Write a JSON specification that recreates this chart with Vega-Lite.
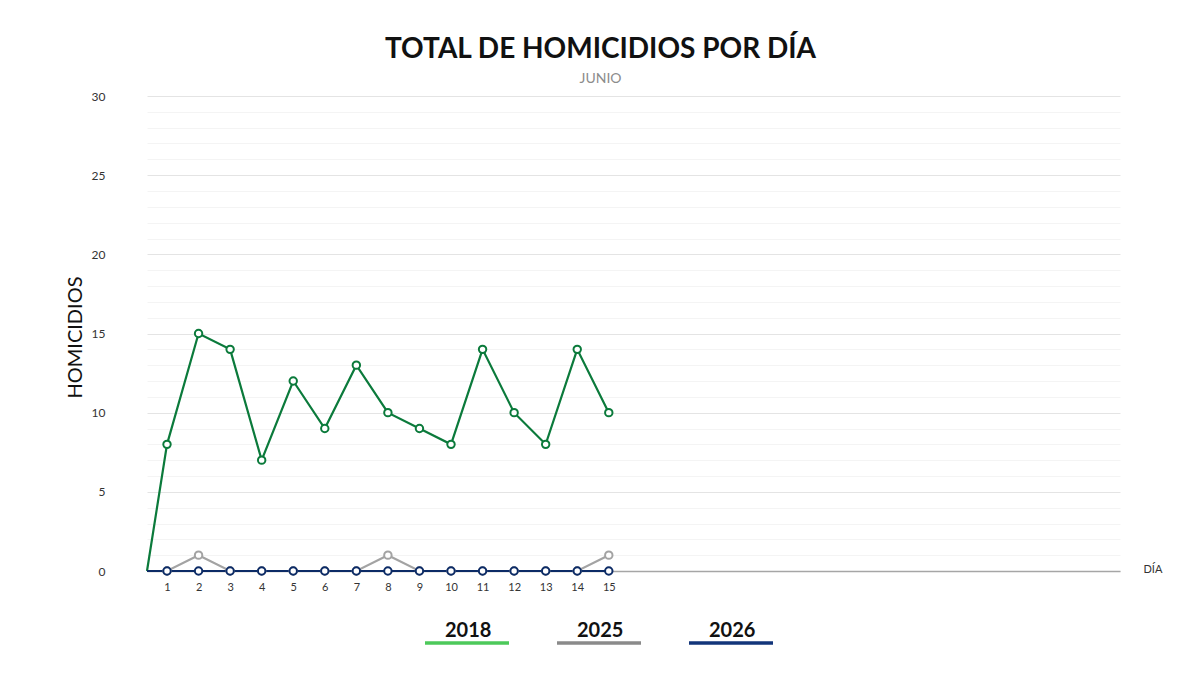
{
  "$schema": "https://vega.github.io/schema/vega-lite/v6.json",
  "autosize": {"type": "none"},
  "width": 973,
  "height": 475,
  "padding": {"left": 147, "top": 96, "right": 80, "bottom": 104},
  "background": "white",
  "title": {
    "text": "TOTAL DE HOMICIDIOS POR DÍA",
    "subtitle": "JUNIO",
    "anchor": "middle",
    "dx": -33,
    "offset": 4,
    "font": "Lato",
    "fontSize": 28,
    "fontWeight": "bold",
    "color": "#111111",
    "subtitleFont": "Lato",
    "subtitleFontSize": 14,
    "subtitleFontWeight": "normal",
    "subtitleColor": "#8c8c8c",
    "subtitlePadding": 8
  },
  "config": {
    "view": {"stroke": null},
    "font": "Lato",
    "legend": {
      "orient": "none",
      "legendX": 308,
      "legendY": 523,
      "direction": "horizontal",
      "symbolType": "M-4.2,1.2L4.2,1.2",
      "symbolSize": 400,
      "symbolStrokeWidth": 3.5,
      "labelFontSize": 20,
      "labelFontWeight": "bold",
      "labelColor": "#111111",
      "labelOffset": -34,
      "columnPadding": 34
    }
  },
  "data": {
    "values": [
      {"dia": 0, "anio": "2018", "homicidios": 0},
      {"dia": 1, "anio": "2018", "homicidios": 8},
      {"dia": 2, "anio": "2018", "homicidios": 15},
      {"dia": 3, "anio": "2018", "homicidios": 14},
      {"dia": 4, "anio": "2018", "homicidios": 7},
      {"dia": 5, "anio": "2018", "homicidios": 12},
      {"dia": 6, "anio": "2018", "homicidios": 9},
      {"dia": 7, "anio": "2018", "homicidios": 13},
      {"dia": 8, "anio": "2018", "homicidios": 10},
      {"dia": 9, "anio": "2018", "homicidios": 9},
      {"dia": 10, "anio": "2018", "homicidios": 8},
      {"dia": 11, "anio": "2018", "homicidios": 14},
      {"dia": 12, "anio": "2018", "homicidios": 10},
      {"dia": 13, "anio": "2018", "homicidios": 8},
      {"dia": 14, "anio": "2018", "homicidios": 14},
      {"dia": 15, "anio": "2018", "homicidios": 10},
      {"dia": 0, "anio": "2025", "homicidios": 0},
      {"dia": 1, "anio": "2025", "homicidios": 0},
      {"dia": 2, "anio": "2025", "homicidios": 1},
      {"dia": 3, "anio": "2025", "homicidios": 0},
      {"dia": 4, "anio": "2025", "homicidios": 0},
      {"dia": 5, "anio": "2025", "homicidios": 0},
      {"dia": 6, "anio": "2025", "homicidios": 0},
      {"dia": 7, "anio": "2025", "homicidios": 0},
      {"dia": 8, "anio": "2025", "homicidios": 1},
      {"dia": 9, "anio": "2025", "homicidios": 0},
      {"dia": 10, "anio": "2025", "homicidios": 0},
      {"dia": 11, "anio": "2025", "homicidios": 0},
      {"dia": 12, "anio": "2025", "homicidios": 0},
      {"dia": 13, "anio": "2025", "homicidios": 0},
      {"dia": 14, "anio": "2025", "homicidios": 0},
      {"dia": 15, "anio": "2025", "homicidios": 1},
      {"dia": 0, "anio": "2026", "homicidios": 0},
      {"dia": 1, "anio": "2026", "homicidios": 0},
      {"dia": 2, "anio": "2026", "homicidios": 0},
      {"dia": 3, "anio": "2026", "homicidios": 0},
      {"dia": 4, "anio": "2026", "homicidios": 0},
      {"dia": 5, "anio": "2026", "homicidios": 0},
      {"dia": 6, "anio": "2026", "homicidios": 0},
      {"dia": 7, "anio": "2026", "homicidios": 0},
      {"dia": 8, "anio": "2026", "homicidios": 0},
      {"dia": 9, "anio": "2026", "homicidios": 0},
      {"dia": 10, "anio": "2026", "homicidios": 0},
      {"dia": 11, "anio": "2026", "homicidios": 0},
      {"dia": 12, "anio": "2026", "homicidios": 0},
      {"dia": 13, "anio": "2026", "homicidios": 0},
      {"dia": 14, "anio": "2026", "homicidios": 0},
      {"dia": 15, "anio": "2026", "homicidios": 0}
    ]
  },
  "encoding": {
    "x": {
      "field": "dia",
      "type": "quantitative",
      "scale": {"domain": [0.366, 31.2], "nice": false, "zero": false, "clamp": true},
      "axis": {
        "values": [1, 2, 3, 4, 5, 6, 7, 8, 9, 10, 11, 12, 13, 14, 15],
        "grid": false,
        "ticks": false,
        "domainColor": "#a6a6a6",
        "domainWidth": 1.5,
        "labelFontSize": 11,
        "labelColor": "#333333",
        "labelPadding": 10,
        "title": "DÍA",
        "titleFontSize": 11,
        "titleFontWeight": "normal",
        "titleColor": "#333333",
        "titleX": 996,
        "titleY": -2,
        "titleAlign": "left",
        "titleBaseline": "middle"
      }
    },
    "y": {
      "field": "homicidios",
      "type": "quantitative",
      "scale": {"domain": [0, 30], "nice": false},
      "axis": {
        "values": [0, 1, 2, 3, 4, 5, 6, 7, 8, 9, 10, 11, 12, 13, 14, 15, 16, 17, 18, 19, 20, 21, 22, 23, 24, 25, 26, 27, 28, 29, 30],
        "labelExpr": "datum.value % 5 === 0 ? datum.label : ''",
        "ticks": false,
        "domain": false,
        "grid": true,
        "gridColor": {"condition": {"test": "datum.value % 5 === 0", "value": "#e4e4e4"}, "value": "#f4f4f4"},
        "labelFontSize": 12,
        "labelColor": "#333333",
        "labelPadding": 42,
        "title": "HOMICIDIOS",
        "titleFontSize": 20,
        "titleFontWeight": "normal",
        "titleColor": "#111111",
        "titleX": -66,
        "titleY": 241,
        "titleBaseline": "alphabetic"
      }
    }
  },
  "layer": [
    {
      "mark": {"type": "line", "strokeWidth": 2.2},
      "encoding": {
        "color": {
          "field": "anio",
          "type": "nominal",
          "scale": {"domain": ["2018", "2025", "2026"], "range": ["#0b7a3b", "#a3a3a3", "#0c2b66"]},
          "legend": null
        }
      }
    },
    {
      "mark": {"type": "line", "strokeOpacity": 0},
      "encoding": {
        "stroke": {
          "field": "anio",
          "type": "nominal",
          "scale": {"range": ["#4cc95a", "#8a8a8a", "#12357a"]},
          "legend": {"title": null, "symbolStrokeWidth": 3.5, "symbolOpacity": 1}
        }
      }
    },
    {
      "transform": [{"filter": "datum.dia >= 1"}],
      "mark": {"type": "point", "filled": false, "fill": "white", "size": 55, "strokeWidth": 2, "opacity": 1},
      "encoding": {
        "color": {"field": "anio", "type": "nominal", "legend": null}
      }
    }
  ]
}
